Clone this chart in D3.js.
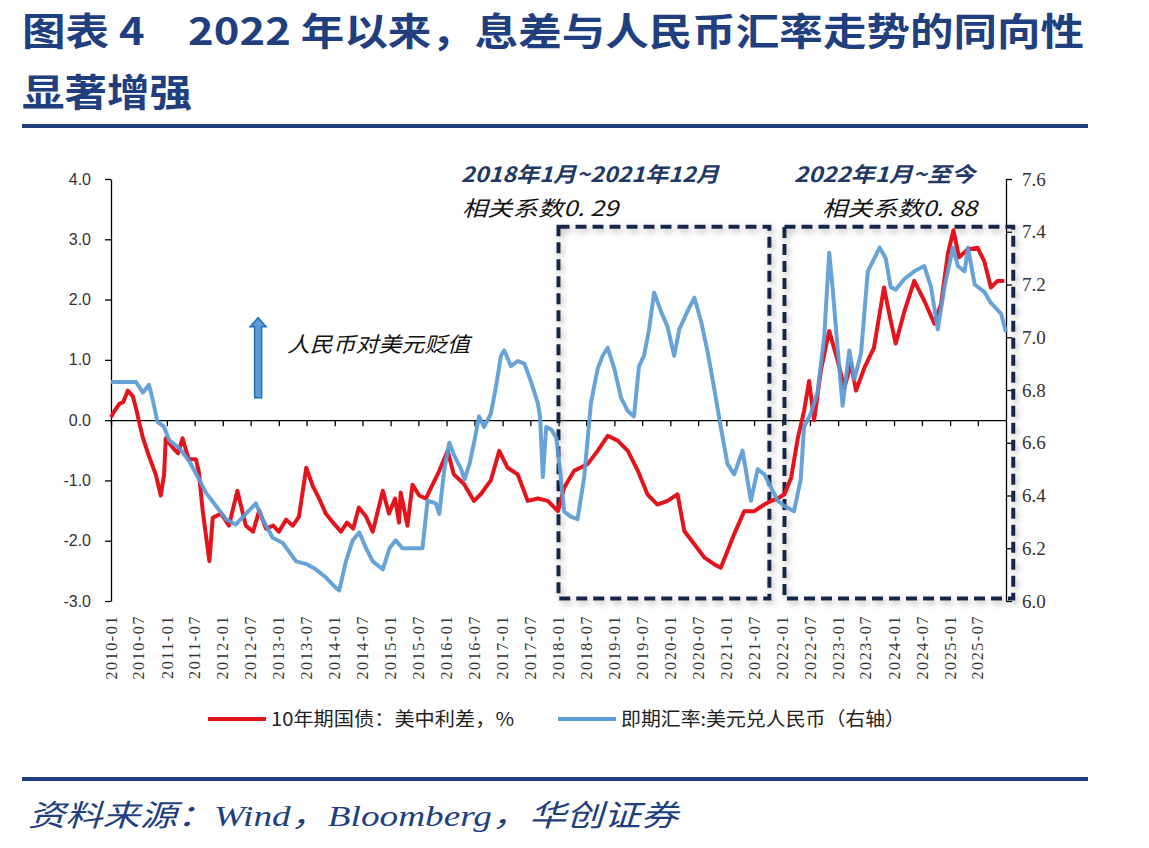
<!DOCTYPE html>
<html>
<head>
<meta charset="utf-8">
<script src="https://cdn.jsdelivr.net/npm/d3@7"></script>
<style>
body { margin: 0; background: #fff; }
svg { display: block; }
</style>
</head>
<body>
<svg id="chart"></svg>
<script>
var width = 1149, height = 848;

// 10年期国债：美中利差（左轴，%）  [decimal year, value]
var spread = [
    [2010.00, 0.05], [2010.06, 0.15], [2010.15, 0.27], [2010.22, 0.30], [2010.30, 0.49], [2010.39, 0.40],
    [2010.46, 0.15], [2010.51, -0.06], [2010.57, -0.29], [2010.68, -0.60], [2010.80, -0.90], [2010.89, -1.25],
    [2010.95, -0.90], [2010.98, -0.30], [2011.10, -0.45], [2011.20, -0.55], [2011.28, -0.30], [2011.39, -0.65],
    [2011.52, -0.65], [2011.57, -0.85], [2011.64, -1.50], [2011.76, -2.34], [2011.82, -1.62], [2011.97, -1.55],
    [2012.11, -1.75], [2012.26, -1.17], [2012.41, -1.75], [2012.54, -1.85], [2012.65, -1.50], [2012.77, -1.80],
    [2012.90, -1.75], [2013.00, -1.85], [2013.13, -1.65], [2013.25, -1.75], [2013.36, -1.60], [2013.49, -0.79],
    [2013.61, -1.10], [2013.72, -1.30], [2013.84, -1.55], [2013.97, -1.70], [2014.11, -1.85], [2014.22, -1.70],
    [2014.33, -1.80], [2014.43, -1.45], [2014.56, -1.60], [2014.68, -1.85], [2014.86, -1.17], [2014.97, -1.55],
    [2015.08, -1.30], [2015.15, -1.70], [2015.18, -1.20], [2015.30, -1.75], [2015.39, -1.07], [2015.51, -1.25],
    [2015.63, -1.30], [2015.75, -1.07], [2015.87, -0.84], [2016.02, -0.51], [2016.13, -0.90], [2016.31, -1.06],
    [2016.49, -1.34], [2016.61, -1.23], [2016.79, -1.00], [2016.94, -0.51], [2017.09, -0.79], [2017.27, -0.90],
    [2017.45, -1.34], [2017.63, -1.30], [2017.81, -1.34], [2017.99, -1.51], [2018.10, -1.12], [2018.28, -0.84],
    [2018.52, -0.73], [2018.70, -0.51], [2018.88, -0.26], [2019.06, -0.34], [2019.24, -0.51], [2019.42, -0.84],
    [2019.59, -1.23], [2019.77, -1.40], [2019.95, -1.34], [2020.13, -1.23], [2020.25, -1.84], [2020.43, -2.06],
    [2020.61, -2.28], [2020.78, -2.39], [2020.90, -2.45], [2021.02, -2.17], [2021.14, -1.89], [2021.32, -1.51],
    [2021.50, -1.51], [2021.68, -1.40], [2021.80, -1.34], [2021.92, -1.30], [2022.04, -1.23], [2022.16, -0.95],
    [2022.28, -0.29], [2022.39, 0.15], [2022.48, 0.65], [2022.57, 0.00], [2022.69, 0.82], [2022.84, 1.48],
    [2022.99, 0.99], [2023.11, 0.54], [2023.23, 0.93], [2023.32, 0.49], [2023.47, 0.87], [2023.64, 1.20],
    [2023.82, 2.20], [2023.94, 1.65], [2024.03, 1.27], [2024.18, 1.79], [2024.36, 2.31], [2024.54, 1.98],
    [2024.72, 1.60], [2024.84, 1.93], [2024.96, 2.76], [2025.06, 3.15], [2025.16, 2.70], [2025.31, 2.83],
    [2025.49, 2.86], [2025.61, 2.64], [2025.73, 2.20], [2025.85, 2.31], [2025.97, 2.31]
];

// 即期汇率：美元兑人民币（右轴）  [decimal year, value]
var usdcny = [
    [2010.00, 6.83], [2010.25, 6.83], [2010.45, 6.83], [2010.57, 6.79], [2010.68, 6.82], [2010.75, 6.76],
    [2010.83, 6.68], [2010.95, 6.66], [2011.04, 6.61], [2011.22, 6.58], [2011.40, 6.53], [2011.58, 6.46],
    [2011.70, 6.41], [2011.88, 6.36], [2012.06, 6.31], [2012.23, 6.29], [2012.41, 6.33], [2012.59, 6.37],
    [2012.71, 6.31], [2012.89, 6.24], [2013.07, 6.22], [2013.31, 6.15], [2013.49, 6.14], [2013.66, 6.12],
    [2013.84, 6.09], [2014.02, 6.05], [2014.08, 6.04], [2014.20, 6.15], [2014.32, 6.23], [2014.44, 6.26],
    [2014.56, 6.20], [2014.68, 6.15], [2014.86, 6.12], [2014.98, 6.20], [2015.09, 6.23], [2015.21, 6.20],
    [2015.33, 6.20], [2015.57, 6.20], [2015.66, 6.38], [2015.81, 6.37], [2015.87, 6.33], [2015.96, 6.50],
    [2016.05, 6.60], [2016.14, 6.55], [2016.26, 6.50], [2016.32, 6.46], [2016.41, 6.52], [2016.49, 6.60],
    [2016.58, 6.70], [2016.67, 6.66], [2016.79, 6.71], [2016.88, 6.81], [2016.97, 6.93], [2017.03, 6.95],
    [2017.15, 6.89], [2017.27, 6.91], [2017.39, 6.90], [2017.51, 6.83], [2017.63, 6.75], [2017.67, 6.70],
    [2017.72, 6.47], [2017.78, 6.66], [2017.87, 6.65], [2017.96, 6.62], [2018.04, 6.47], [2018.10, 6.34],
    [2018.22, 6.32], [2018.34, 6.31], [2018.46, 6.47], [2018.58, 6.75], [2018.70, 6.88], [2018.79, 6.93],
    [2018.88, 6.96], [2019.00, 6.88], [2019.12, 6.77], [2019.24, 6.72], [2019.35, 6.70], [2019.44, 6.89],
    [2019.53, 6.93], [2019.62, 7.03], [2019.71, 7.17], [2019.83, 7.10], [2019.95, 7.04], [2020.07, 6.93],
    [2020.16, 7.03], [2020.31, 7.10], [2020.43, 7.15], [2020.55, 7.06], [2020.67, 6.94], [2020.78, 6.81],
    [2020.90, 6.66], [2021.02, 6.52], [2021.14, 6.48], [2021.29, 6.57], [2021.44, 6.38], [2021.56, 6.50],
    [2021.68, 6.48], [2021.80, 6.43], [2021.92, 6.38], [2022.04, 6.36], [2022.21, 6.34], [2022.33, 6.46],
    [2022.39, 6.66], [2022.51, 6.71], [2022.63, 6.79], [2022.75, 7.00], [2022.84, 7.32], [2022.90, 7.19],
    [2022.99, 6.96], [2023.08, 6.74], [2023.20, 6.95], [2023.29, 6.84], [2023.41, 6.94], [2023.53, 7.25],
    [2023.65, 7.30], [2023.74, 7.34], [2023.85, 7.30], [2023.94, 7.19], [2024.03, 7.18], [2024.18, 7.22],
    [2024.36, 7.25], [2024.54, 7.27], [2024.66, 7.19], [2024.78, 7.03], [2024.90, 7.19], [2025.05, 7.34],
    [2025.14, 7.27], [2025.26, 7.25], [2025.32, 7.34], [2025.44, 7.20], [2025.62, 7.17], [2025.73, 7.13],
    [2025.91, 7.09], [2026.00, 7.02]
];

var leftTicks = [-3, -2, -1, 0, 1, 2, 3, 4];
var rightTicks = [6.0, 6.2, 6.4, 6.6, 6.8, 7.0, 7.2, 7.4, 7.6];
var xTickLabels = [
    '2010-01', '2010-07', '2011-01', '2011-07', '2012-01', '2012-07', '2013-01', '2013-07',
    '2014-01', '2014-07', '2015-01', '2015-07', '2016-01', '2016-07', '2017-01', '2017-07',
    '2018-01', '2018-07', '2019-01', '2019-07', '2020-01', '2020-07', '2021-01', '2021-07',
    '2022-01', '2022-07', '2023-01', '2023-07', '2024-01', '2024-07', '2025-01', '2025-07'
];

var seriesNames = ['10年期国债：美中利差，%', '即期汇率:美元兑人民币（右轴）'];
var colours = ['#e3141c', '#5b9bd5'];

var navy = '#1f3f7f';

// decimal year -> Date
function toDate(t) {
    var yr = Math.floor(t);
    var a = new Date(yr, 0, 1), b = new Date(yr + 1, 0, 1);
    return new Date(+a + (t - yr) * (b - a));
}
var parseMonth = d3.timeParse('%Y-%m');

var svg = d3.select('#chart')
    .attr('width', width)
    .attr('height', height)
    .style('font-family', '"Noto Sans CJK SC", sans-serif');

var defs = svg.append('defs');
var shadow = defs.append('filter').attr('id', 'shadow')
    .attr('x', '-10%').attr('y', '-10%').attr('width', '120%').attr('height', '120%');
shadow.append('feDropShadow')
    .attr('dx', 2).attr('dy', 3).attr('stdDeviation', 3)
    .attr('flood-color', '#777').attr('flood-opacity', 0.55);

// ---- title block ----
svg.append('text')
    .attr('x', 22).attr('y', 45)
    .attr('font-size', 38).attr('font-weight', 'bold').attr('fill', navy)
    .attr('textLength', 1062).attr('lengthAdjust', 'spacingAndGlyphs')
    .text('图表 4　2022 年以来，息差与人民币汇率走势的同向性');
svg.append('text')
    .attr('x', 22).attr('y', 106)
    .attr('font-size', 38).attr('font-weight', 'bold').attr('fill', navy)
    .attr('textLength', 170).attr('lengthAdjust', 'spacingAndGlyphs')
    .text('显著增强');
svg.append('line')
    .attr('x1', 22).attr('x2', 1088).attr('y1', 126).attr('y2', 126)
    .attr('stroke', navy).attr('stroke-width', 4);

// ---- scales ----
var x = d3.scaleTime()
    .domain([new Date(2010, 0, 1), new Date(2026, 0, 1)])
    .range([111, 1006]);
var yL = d3.scaleLinear().domain([-3, 4]).range([601, 179]);
var yR = d3.scaleLinear().domain([6.0, 7.6]).range([601, 179]);

// ---- axes ----
var leftAxis = svg.append('g')
    .attr('transform', 'translate(111,0)')
    .call(d3.axisLeft(yL).tickValues(leftTicks).tickSize(6).tickSizeOuter(0).tickFormat(d => d.toFixed(1)));
leftAxis.selectAll('text')
    .attr('x', -20)
    .style('font-family', '"Liberation Sans", Arial, sans-serif')
    .style('font-size', '16px').attr('fill', '#333');

var rightAxis = svg.append('g')
    .attr('transform', 'translate(1006,0)')
    .call(d3.axisRight(yR).tickValues(rightTicks).tickSize(6).tickSizeOuter(0).tickFormat(d => d.toFixed(1)));
rightAxis.selectAll('text')
    .attr('x', 16)
    .style('font-family', '"Liberation Serif", "Times New Roman", serif')
    .style('font-size', '19px').attr('fill', '#333');

[leftAxis, rightAxis].forEach(g => {
    g.select('.domain').attr('stroke', '#000').attr('stroke-width', 1.3);
    g.selectAll('.tick line').attr('stroke', '#000').attr('stroke-width', 1.3);
});

// zero line with half-year ticks
var tickDates = xTickLabels.map(parseMonth);
var zeroAxis = svg.append('g')
    .attr('transform', `translate(0,${yL(0)})`)
    .call(d3.axisBottom(x).tickValues(tickDates).tickSize(6).tickSizeOuter(0).tickFormat(''));
zeroAxis.select('.domain').attr('stroke', '#000').attr('stroke-width', 1.3);
zeroAxis.selectAll('.tick line').attr('stroke', '#000').attr('stroke-width', 1.3);

// rotated date labels at the bottom
svg.append('g').selectAll('text')
    .data(xTickLabels)
    .enter()
    .append('text')
    .attr('transform', d => `translate(${x(parseMonth(d))},615) rotate(-90)`)
    .attr('dy', '0.35em')
    .style('text-anchor', 'end')
    .style('font-family', '"Liberation Serif", "Times New Roman", serif')
    .style('font-size', '16px')
    .style('letter-spacing', '1.6px')
    .attr('fill', '#333')
    .text(d => d);

// ---- correlation boxes ----
var boxes = [
    { from: 2018.00, to: 2021.77 },
    { from: 2022.04, to: 2026.13 }
];
svg.append('g').selectAll('rect')
    .data(boxes)
    .enter()
    .append('rect')
    .attr('x', d => x(toDate(d.from)))
    .attr('y', yL(3.21))
    .attr('width', d => x(toDate(d.to)) - x(toDate(d.from)))
    .attr('height', yL(-2.96) - yL(3.21))
    .attr('fill', 'none')
    .attr('stroke', '#14284b')
    .attr('stroke-width', 4)
    .attr('stroke-dasharray', '11,6')
    .attr('filter', 'url(#shadow)');

// ---- lines ----
var lineL = d3.line().x(d => x(toDate(d[0]))).y(d => yL(d[1]));
var lineR = d3.line().x(d => x(toDate(d[0]))).y(d => yR(d[1]));

svg.append('path')
    .datum(spread)
    .attr('d', lineL)
    .attr('fill', 'none')
    .attr('stroke', colours[0])
    .attr('stroke-width', 4)
    .attr('stroke-linejoin', 'round');

svg.append('path')
    .datum(usdcny)
    .attr('d', lineR)
    .attr('fill', 'none')
    .attr('stroke', colours[1])
    .attr('stroke-width', 4)
    .attr('stroke-linejoin', 'round')
    .attr('stroke-opacity', 0.92);

// ---- annotations ----
svg.append('text')
    .attr('x', 461).attr('y', 182)
    .attr('font-size', 21).attr('font-style', 'italic').attr('font-weight', 'bold').attr('fill', '#1f3864')
    .attr('textLength', 258).attr('lengthAdjust', 'spacingAndGlyphs')
    .text('2018年1月~2021年12月');
svg.append('text')
    .attr('x', 462).attr('y', 216)
    .attr('font-size', 21).attr('font-style', 'italic').attr('fill', '#111')
    .attr('textLength', 156).attr('lengthAdjust', 'spacingAndGlyphs')
    .text('相关系数0. 29');
svg.append('text')
    .attr('x', 794).attr('y', 182)
    .attr('font-size', 21).attr('font-style', 'italic').attr('font-weight', 'bold').attr('fill', '#1f3864')
    .attr('textLength', 181).attr('lengthAdjust', 'spacingAndGlyphs')
    .text('2022年1月~至今');
svg.append('text')
    .attr('x', 822).attr('y', 216)
    .attr('font-size', 21).attr('font-style', 'italic').attr('fill', '#111')
    .attr('textLength', 155).attr('lengthAdjust', 'spacingAndGlyphs')
    .text('相关系数0. 88');

// upward arrow: RMB depreciation
var ax = x(toDate(2012.63)), aTop = yL(1.70), aBot = yL(0.37);
svg.append('path')
    .attr('d', `M${ax - 3.5},${aBot} L${ax - 3.5},${aTop + 9} L${ax - 8},${aTop + 9} L${ax},${aTop} ` +
        `L${ax + 8},${aTop + 9} L${ax + 3.5},${aTop + 9} L${ax + 3.5},${aBot} Z`)
    .attr('fill', '#5b9bd5')
    .attr('stroke', '#1f6fc0')
    .attr('stroke-width', 1.5);
svg.append('text')
    .attr('x', 287).attr('y', 352)
    .attr('font-size', 21).attr('font-style', 'italic').attr('fill', '#111')
    .attr('textLength', 183).attr('lengthAdjust', 'spacingAndGlyphs')
    .text('人民币对美元贬值');

// ---- legend ----
var legend = svg.append('g').attr('transform', 'translate(0,719)');
var legendX = [208, 558];
var legendLen = [243, 284];
seriesNames.forEach((name, i) => {
    legend.append('line')
        .attr('x1', legendX[i]).attr('x2', legendX[i] + 58)
        .attr('stroke', colours[i]).attr('stroke-width', 4);
    legend.append('text')
        .attr('x', legendX[i] + 63).attr('dy', '0.35em')
        .attr('font-size', 19).attr('fill', '#222')
        .attr('textLength', legendLen[i]).attr('lengthAdjust', 'spacingAndGlyphs')
        .text(name);
});

// ---- source ----
svg.append('line')
    .attr('x1', 22).attr('x2', 1088).attr('y1', 779).attr('y2', 779)
    .attr('stroke', navy).attr('stroke-width', 4);
svg.append('text')
    .attr('x', 28).attr('y', 826)
    .attr('font-size', 30).attr('font-style', 'italic').attr('fill', navy)
    .style('font-family', '"Liberation Serif", "Noto Sans CJK SC", serif')
    .attr('textLength', 650).attr('lengthAdjust', 'spacingAndGlyphs')
    .text('资料来源：Wind，Bloomberg，华创证券');
</script>
</body>
</html>
